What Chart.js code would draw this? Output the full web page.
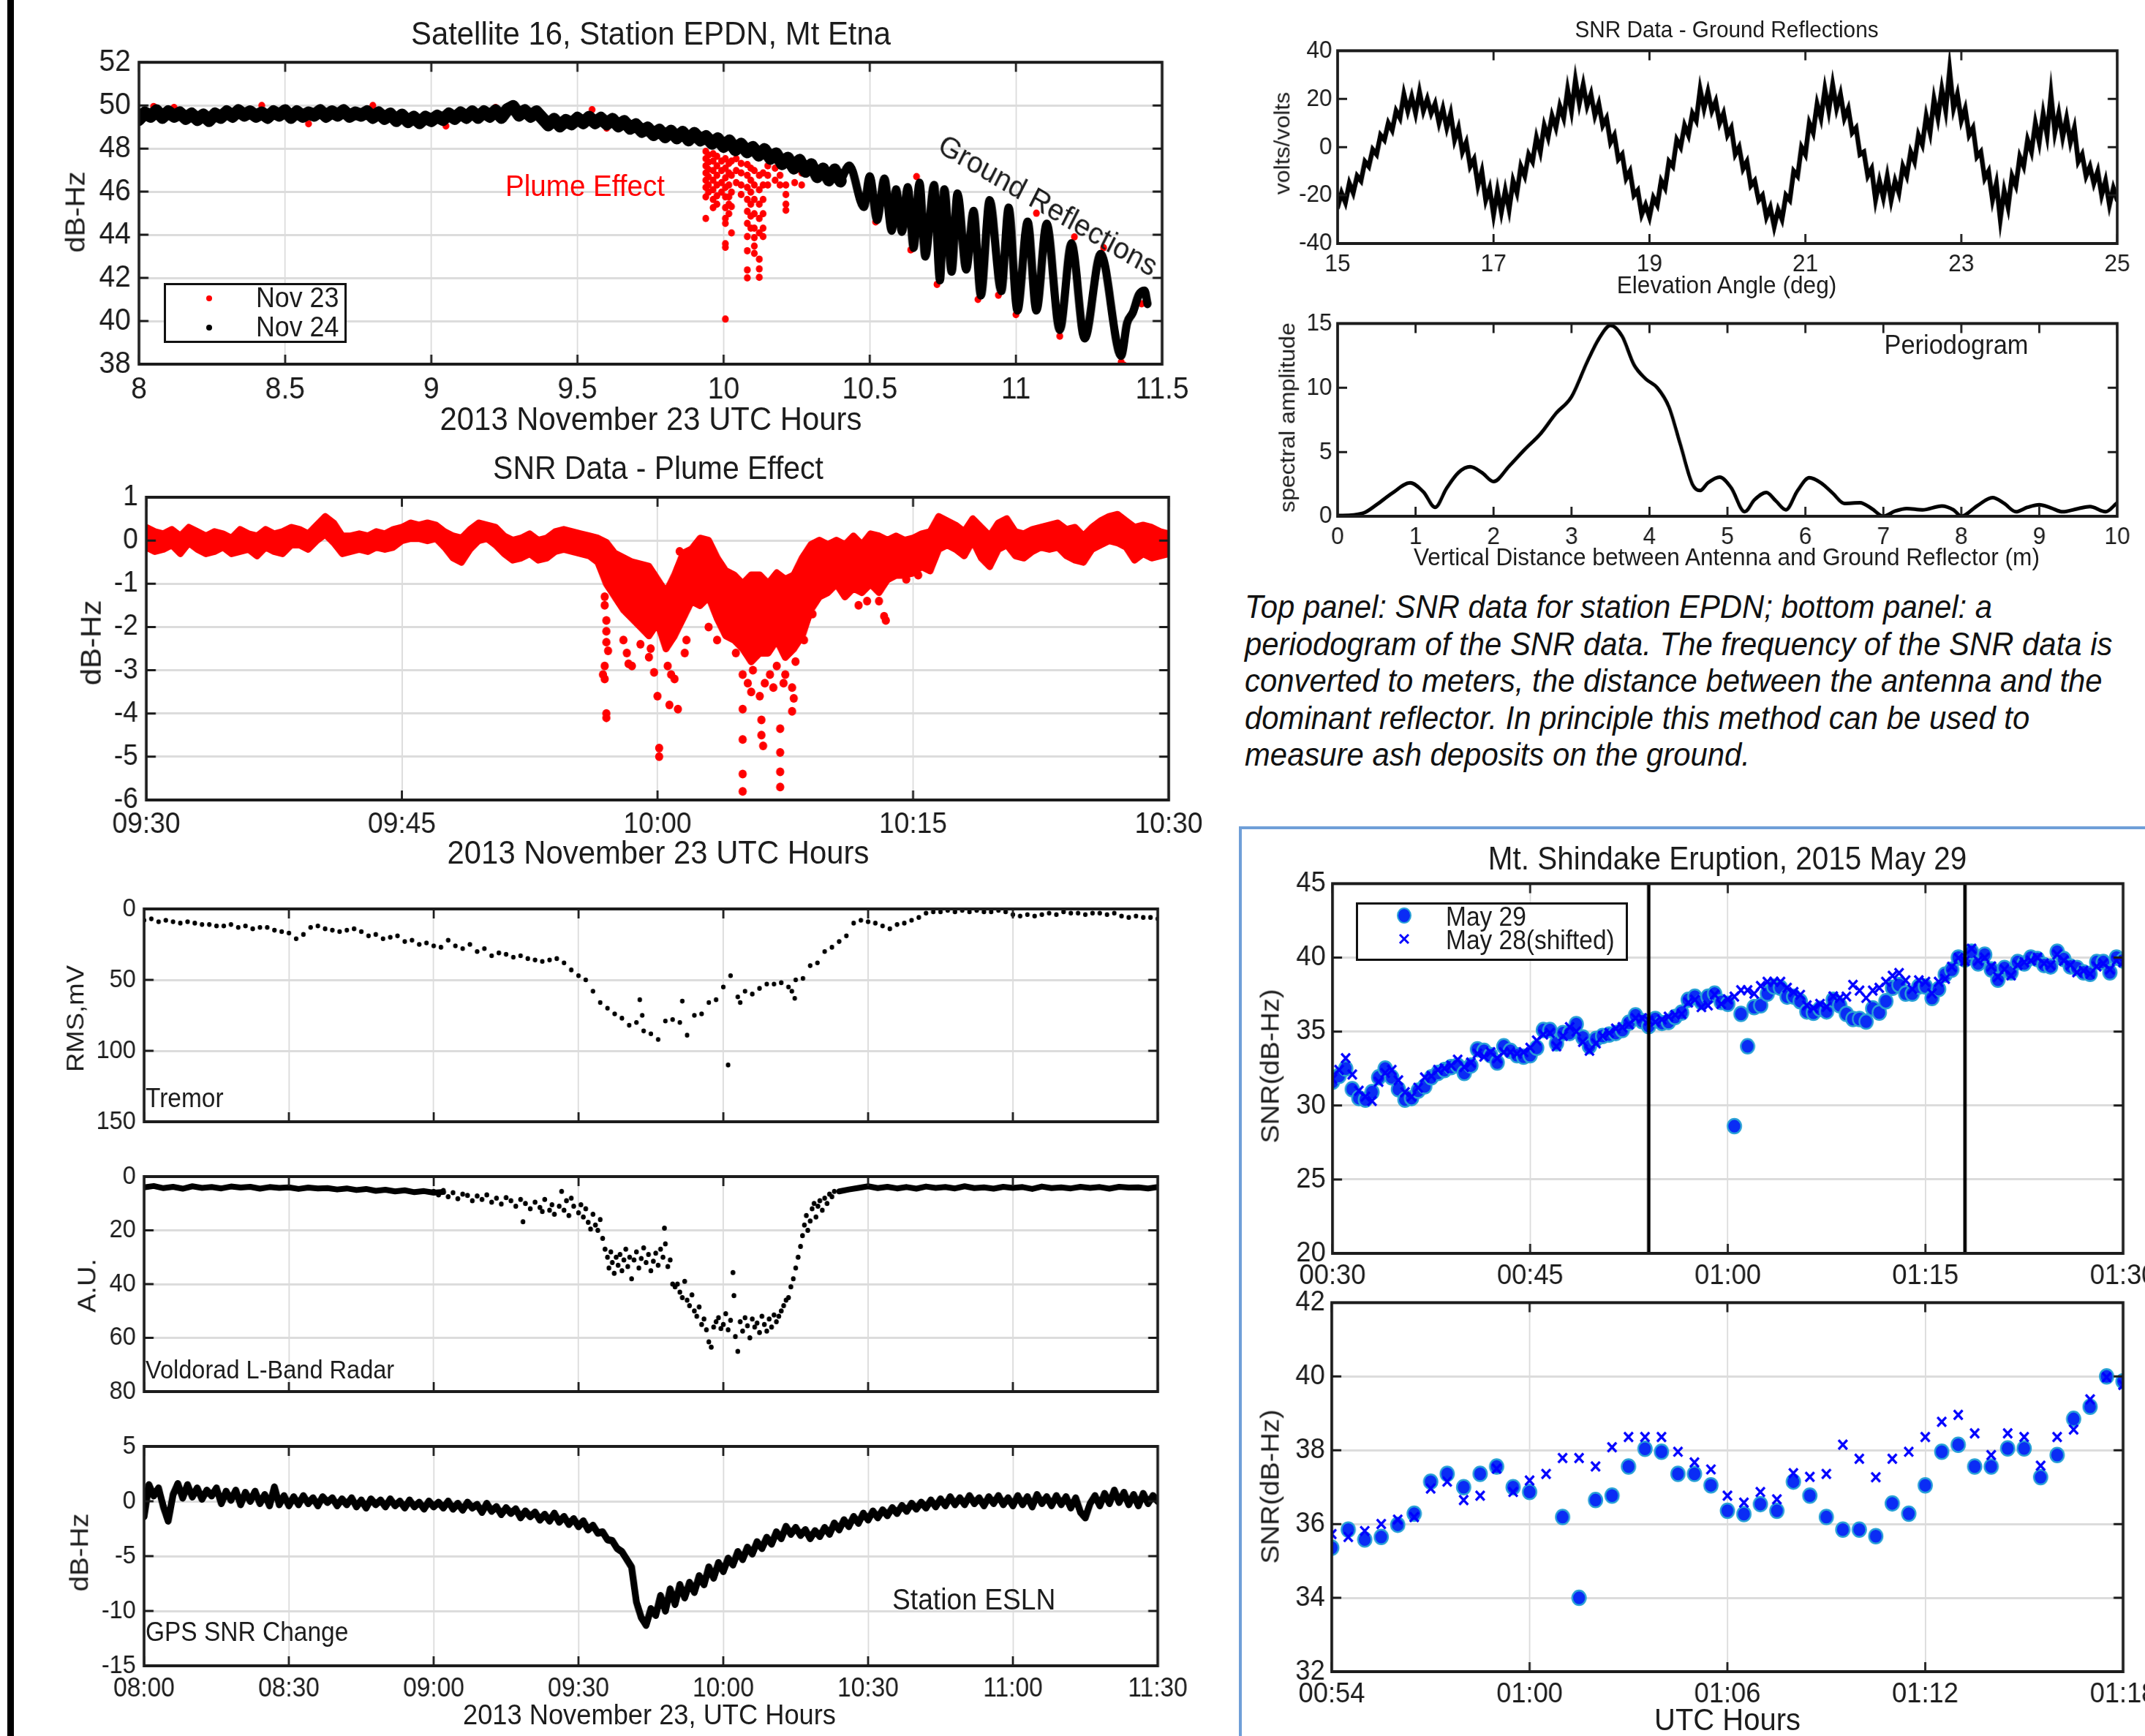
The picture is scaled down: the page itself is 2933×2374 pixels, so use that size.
<!DOCTYPE html>
<html>
<head>
<meta charset="utf-8">
<script src="https://cdn.jsdelivr.net/npm/chart.js@4.4.1/dist/chart.umd.min.js"></script>
<style>
  html, body { margin: 0; padding: 0; background: #fff; }
  body { width: 2933px; height: 2374px; position: relative; overflow: hidden;
         font-family: 'Liberation Sans', Arial, Helvetica, sans-serif; color: #1c1c1c; }
  .t { position: absolute; white-space: nowrap; line-height: 1; }
  canvas { position: absolute; }
  .legend { position: absolute; border: 3px solid #111; background: #fff; box-sizing: border-box; }
</style>
</head>
<body>
<div style="position:absolute;left:10px;top:0;width:9px;height:2374px;background:#000"></div>
<script>
// ---------- data ----------

// Satellite 16, station EPDN: Nov 24 SNR (dB-Hz), sampled every 0.02 h from 8.00 to 10.40
const nov24Start = 8.0, nov24Step = 0.02;
const nov24Snr = [
  49.35, 49.65, 49.50, 49.75, 49.45, 49.70, 49.50, 49.65, 49.40, 49.60,
  49.35, 49.55, 49.30, 49.60, 49.45, 49.70, 49.50, 49.75, 49.55, 49.70,
  49.50, 49.65, 49.45, 49.70, 49.55, 49.75, 49.45, 49.70, 49.50, 49.65,
  49.55, 49.75, 49.50, 49.70, 49.55, 49.75, 49.50, 49.65, 49.55, 49.70,
  49.45, 49.65, 49.40, 49.60, 49.30, 49.55, 49.25, 49.45, 49.20, 49.45,
  49.30, 49.50, 49.35, 49.60, 49.40, 49.65, 49.45, 49.70, 49.45, 49.70,
  49.50, 49.75, 49.45, 49.80, 49.95, 49.55, 49.75, 49.50, 49.70, 49.40,
  49.10, 49.35, 49.05, 49.30, 49.15, 49.40, 49.20, 49.45, 49.20, 49.40,
  49.15, 49.35, 49.05, 49.25, 48.95, 49.10, 48.80, 48.95, 48.65, 48.85,
  48.55, 48.80, 48.50, 48.75, 48.40, 48.70, 48.40, 48.55, 48.25, 48.45,
  48.10, 48.35, 47.95, 48.20, 47.85, 48.05, 47.70, 47.95, 47.55, 47.75,
  47.30, 47.55, 47.10, 47.45, 46.95, 47.25, 46.70, 47.05, 46.55, 47.00,
  46.50
];
// Nov 24 ground-reflection oscillation, peaks and troughs after 10.4 h
const oscHours = [10.40, 10.43, 10.48, 10.50, 10.525, 10.55, 10.575, 10.59, 10.61, 10.63,
  10.65, 10.67, 10.69, 10.72, 10.74, 10.755, 10.78, 10.80, 10.83, 10.855,
  10.88, 10.91, 10.95, 10.975, 11.005, 11.04, 11.07, 11.105, 11.15, 11.19,
  11.235, 11.29, 11.36, 11.38, 11.40, 11.42, 11.44, 11.45];
const oscSnr = [46.5, 47.2, 45.3, 46.7, 44.7, 46.6, 44.2, 46.1, 44.15, 46.2,
  43.4, 46.4, 43.0, 46.3, 41.9, 46.1, 42.3, 45.9, 42.4, 45.1,
  41.2, 45.6, 41.4, 45.25, 40.5, 44.6, 40.5, 44.5, 39.6, 43.6,
  39.2, 43.1, 38.4, 39.9, 40.4, 41.2, 41.4, 40.8];
// Nov 23: plume dropouts, one column of points per time
const plumeColHours = [9.939, 9.948, 9.964, 9.977, 9.993, 10.006, 10.018, 10.027, 10.043, 10.06,
  10.081, 10.093, 10.105, 10.122, 10.135, 10.151, 10.176, 10.193, 10.213, 10.243, 10.267];
const plumeColSnr = [
  [47.87, 47.53, 47.2, 46.87, 46.53, 46.2, 45.76, 44.76],
  [47.7, 47.37, 47.03, 46.7, 46.31, 45.98],
  [47.76, 47.42, 46.98, 46.53, 46.09, 45.64, 45.26],
  [47.64, 47.2, 46.76, 46.31, 45.81, 45.42],
  [47.42, 46.98, 46.42, 45.98],
  [47.53, 47.09, 46.64, 46.2, 45.76, 45.26, 44.76, 44.53, 43.59, 43.42, 40.09],
  [47.31, 46.87, 46.31, 45.76, 45.42, 44.98],
  [47.42, 46.76, 45.98, 45.31, 44.09],
  [47.53, 46.98, 46.42],
  [47.31, 46.87, 46.31, 45.87],
  [47.26, 46.76, 46.2, 45.64, 45.09, 44.53, 43.92, 43.26, 42.37, 42.0],
  [47.09, 46.53, 45.98, 45.42, 44.87, 44.31],
  [46.98, 46.31, 45.64, 44.98, 44.31, 43.87, 43.48, 43.14],
  [46.76, 46.09, 45.42, 44.76, 44.09, 42.87, 42.42, 42.03],
  [46.87, 46.31, 45.64, 44.98, 44.31, 43.92],
  [47.2, 46.76, 46.31],
  [47.09, 46.53],
  [47.31, 46.76, 46.31],
  [46.31, 45.87, 45.42, 45.14],
  [46.98, 46.42],
  [46.87, 46.31]
];
// Nov 23 points showing at the edges of the Nov 24 band
const nov23EdgeHours = [8.05, 8.12, 8.42, 8.58, 8.8, 9.05, 9.22, 9.55, 9.6, 10.52, 10.64, 10.66,
  10.73, 10.87, 10.94, 11.0, 11.07, 11.15, 11.2, 11.3, 11.36, 11.37, 11.43];
const nov23EdgeSnr = [49.95, 49.9, 50.0, 49.15, 50.0, 49.05, 49.9, 49.8, 48.95, 44.6, 43.3, 46.7,
  41.7, 41.0, 41.2, 40.3, 45.0, 39.3, 43.9, 43.4, 38.1, 37.95, 40.8];

// SNR Data - Plume Effect: envelope of the dense band, every 0.5 min from 09:30 to 10:30
const plumeStart = 570, plumeStep = 0.5;
const plumeUpper = [
  0.30, 0.20, 0.15, 0.25, 0.10, 0.30, 0.20, 0.10, 0.20, 0.15,
  0.05, 0.25, 0.15, 0.10, 0.25, 0.15, 0.20, 0.30, 0.25, 0.15,
  0.35, 0.55, 0.40, 0.10, 0.10, 0.15, 0.10, 0.20, 0.15, 0.25,
  0.30, 0.40, 0.35, 0.40, 0.35, 0.20, 0.10, 0.05, 0.25, 0.40,
  0.35, 0.30, 0.10, 0.00, 0.05, 0.15, 0.00, 0.05, 0.20, 0.25,
  0.20, 0.15, 0.10, 0.05,
  -0.05, -0.30, -0.40, -0.50, -0.55, -0.60,
  -0.90, -1.20, -0.80, -0.30, -0.20, 0.05, 0.00, -0.40, -0.70, -0.80,
  -1.00, -0.80, -0.80, -1.00, -0.75, -0.90, -0.80, -0.40, -0.10, 0.00,
  -0.10, 0.00, -0.10, 0.10, -0.10, 0.15, 0.10, 0.00, 0.10, 0.00,
  0.05, 0.15, 0.20, 0.55, 0.45, 0.35, 0.20, 0.50, 0.30, 0.10,
  0.40, 0.50, 0.20, 0.15, 0.25, 0.30, 0.35, 0.40, 0.25, 0.30,
  0.10, 0.30, 0.45, 0.55, 0.60, 0.45, 0.30, 0.35, 0.30, 0.20,
  0.15
];
const plumeLower = [
  -0.15, -0.25, -0.20, -0.10, -0.30, -0.05, -0.20, -0.30, -0.25, -0.15,
  -0.30, -0.25, -0.20, -0.35, -0.15, -0.25, -0.30, -0.10, -0.10, -0.20,
  0.00, 0.15, -0.05, -0.30, -0.25, -0.20, -0.25, -0.15, -0.20, -0.15,
  0.00, 0.05, 0.05, 0.00, 0.05, -0.15, -0.40, -0.50, -0.20, 0.00,
  0.05, -0.10, -0.30, -0.45, -0.40, -0.30, -0.45, -0.40, -0.25, -0.20,
  -0.25, -0.30, -0.35, -0.50,
  -1.00, -1.30, -1.60, -1.80, -2.00, -2.20,
  -1.90, -2.50, -2.20, -1.80, -1.40, -1.50, -1.30, -1.80, -2.20, -2.30,
  -2.50, -2.80, -2.60, -2.60, -2.30, -2.70, -2.50, -2.20, -1.60, -1.30,
  -1.20, -1.00, -1.30, -1.10, -1.20, -1.00, -1.20, -0.90, -0.80, -0.80,
  -0.75, -0.60, -0.70, -0.20, -0.10, -0.20, -0.35, 0.00, -0.40, -0.60,
  -0.20, -0.10, -0.35, -0.40, -0.25, -0.15, -0.20, -0.15, -0.35, -0.45,
  -0.50, -0.20, -0.10, 0.00, -0.05, -0.15, -0.45, -0.30, -0.40, -0.35,
  -0.30
];
// isolated dropout points (minutes after 09:30, dB-Hz)
const plumeOutMin = [26.9, 26.9, 27.0, 27.0, 27.0, 27.1, 26.9, 26.8, 26.9, 27.0, 27.0,
  28.0, 28.2, 28.3, 28.5, 29.0, 29.5, 29.8, 29.6,
  30.0, 30.1, 30.1, 30.7, 31.2, 30.6, 30.8, 31.0,
  31.3, 31.6, 31.7, 33.0, 33.5,
  34.6, 35.0, 35.0, 35.0, 35.0, 35.0, 35.3, 35.5, 35.6,
  36.0, 36.1, 36.1, 36.2, 36.3, 36.6, 36.8,
  37.2, 37.2, 37.2, 37.2, 37.0, 37.4, 37.5,
  37.9, 38.0, 37.9, 38.1, 38.6, 39.1,
  43.0, 43.3, 43.4, 42.3, 41.8, 44.6, 45.3];
const plumeOutDb = [-1.3, -1.5, -1.85, -2.1, -2.35, -2.55, -2.9, -3.1, -3.2, -4.1, -4.0,
  -2.3, -2.6, -2.85, -2.9, -2.4, -2.7, -3.05, -2.5,
  -3.6, -4.8, -5.0, -3.8, -3.9, -2.9, -3.1, -3.2,
  -0.25, -2.6, -2.3, -2.0, -2.3,
  -2.6, -3.1, -3.9, -4.6, -5.4, -5.8, -3.3, -3.5, -3.0,
  -3.6, -4.15, -4.5, -4.75, -3.3, -3.1, -3.4,
  -4.35, -4.9, -5.35, -5.7, -2.9, -3.3, -3.1,
  -3.95, -3.65, -3.4, -2.8, -2.3, -1.7,
  -1.4, -1.75, -1.85, -1.4, -1.5, -0.9, -0.8];

// Tremor RMS (mV), every 1.5 min from 08:00
const tremorStep = 1.5;
const tremorRms = [
  8, 7, 9, 8, 9, 10, 9, 10, 11, 11, 12, 12, 11, 13, 12, 14, 13, 13, 15, 16,
  17, 21, 18, 13, 12, 14, 15, 16, 15, 14, 16, 19, 18, 21, 20, 19, 23, 22, 25, 24,
  26, 27, 22, 26, 28, 25, 30, 28, 33, 31, 32, 34, 33, 35, 36, 37, 36, 35, 38, 43,
  47, 50, 58, 66, 70, 74, 77, 82, 80, 86, 88, 92, 79, 78, 80, 89, 75, 74, 66, 64,
  55, 47, 62, 58, 60, 56, 53, 53, 52, 55, 50, 49, 40, 38, 30, 27, 23, 19, 10, 8,
  9, 10, 12, 14, 11, 10, 8, 6, 3, 2, 2, 1, 2, 1, 2, 1, 2, 2, 1, 2,
  4, 5, 4, 5, 4, 3, 4, 2, 3, 3, 4, 3, 3, 4, 3, 5, 6, 5, 6, 6,
  7
];
const tremorExtraMin = [102.7, 103.2, 111.5, 121, 123.5, 134.2, 134.8];
const tremorExtraRms = [64, 75, 65, 110, 66, 58, 63];

// Voldorad L-band radar (A.U.): quiet band every 2 min, and the scattered echo
const voldoradStep = 2;
const voldoradBand = [
  4.0, 3.5, 4.3, 3.8, 4.5, 3.6, 4.2, 3.9, 4.4, 3.7, 4.1, 3.8, 4.5, 3.9, 4.2, 4.0,
  4.6, 4.1, 4.4, 4.3, 4.8, 4.4, 5.0, 4.6, 5.3, 4.9, 5.5, 5.1, 5.8, 5.4, 6.0, 5.7,
  null, null, null, null, null, null, null, null, null, null,
  null, null, null, null, null, null, null, null, null, null,
  null, null, null, null, null, null, null, null, null, null,
  null, null, null, null, null, null, null, null, null, null,
  5.5, 4.8, 4.2, 3.6, 4.3, 3.8, 4.4, 3.9, 4.5, 3.7, 4.2, 3.9, 4.4, 3.6, 4.3, 4.0,
  4.5, 3.8, 4.2, 3.9, 4.6, 3.7, 4.3, 4.0, 4.4, 3.8, 4.2, 3.9, 4.5, 3.8, 4.1, 4.0,
  4.4, 3.9
];
const voldoradMin = [60, 61, 62, 63, 64, 65, 66, 67, 68, 69, 70, 71, 72, 73, 74, 75, 76, 77, 78, 79, 80, 78.5,
  81, 82, 82.5, 83, 84, 84.5, 85, 86, 86.5, 87, 87.5, 88, 88.5, 89, 90, 90.5,
  91, 91.5, 92, 92.5, 93, 93.5, 94, 94.5,
  95, 95.5, 96, 96.3, 96.7, 97, 97.4, 97.8, 98.2, 98.6, 99, 99.4, 99.8, 100.2, 100.6, 101,
  101.5, 102, 102.5, 103, 103.5, 104, 104.5, 105, 105.5, 106, 106.5, 107, 107.5, 107.8, 108, 108.5, 109,
  109.5, 110, 110.5, 111, 111.5, 112, 112.5, 113, 113.5, 114, 114.5, 115, 115.5, 116, 116.5, 117, 117.5, 118,
  118.5, 119, 119.5, 120, 120.5, 121, 121.5, 122, 122.2, 122.5, 123, 123.5, 124, 124.5, 125, 125.5, 126, 126.5, 127, 127.5,
  128, 128.5, 129, 129.5, 130, 130.5, 131, 131.5, 132, 132.5, 133, 133.5, 134, 134.5,
  135, 135.5, 136, 136.4, 136.8, 137.2, 137.5, 138, 138.4, 138.8, 139.2, 139.6, 140, 140.5, 141, 141.5, 142, 142.5, 143];
const voldoradAu = [5.5, 6.8, 5.2, 7.5, 6.0, 8.2, 6.5, 7.0, 9.0, 7.2, 8.5, 6.8, 9.5, 8.0, 10.2, 7.8, 9.0, 11.0, 8.5, 10.0, 12.0, 16.8,
  9.5, 11.5, 13.0, 8.5, 12.5, 10.5, 14.0, 11.0, 5.5, 12.5, 9.0, 14.5, 8.0, 11.0, 13.5, 10.5,
  15.0, 12.0, 17.0, 19.5, 14.0, 18.0, 20.0, 16.0,
  23.0, 27.0, 30.0, 34.0, 28.0, 32.0, 36.0, 30.0, 33.0, 29.0, 35.0, 31.0, 27.0, 33.5, 30.0, 38.0,
  31.0, 28.0, 34.0, 30.5, 26.5, 32.0, 29.0, 35.0, 31.5, 28.5, 33.0, 27.0, 30.0, 19.2, 25.0, 33.5, 31.0,
  40.0, 41.0, 40.0, 43.0, 45.0, 39.0, 46.0, 48.0, 44.0, 50.0, 52.0, 48.5, 55.0, 53.0, 57.0, 61.5, 63.5, 56.0,
  54.0, 52.5, 56.5, 55.0, 51.0, 57.0, 53.5, 35.7, 44.3, 59.5, 65.0, 54.0, 57.5, 52.5, 55.5, 60.0, 53.0, 56.0, 54.5, 58.0,
  52.0, 55.0, 57.5, 53.0, 56.0, 51.5, 54.0, 52.0, 50.0, 48.0, 46.0, 45.0, 41.0, 38.0,
  34.0, 30.0, 26.0, 22.0, 18.0, 14.5, 20.0, 16.5, 12.0, 10.0, 15.0, 11.0, 9.0, 12.5, 8.0, 10.0, 6.5, 7.5, 5.5];

// GPS SNR change at ESLN (dB-Hz), every minute from 08:00 to 11:30
const gpsStep = 1;
const gpsSnr = [
  -1.4, 1.5, 0.5, 1.2, -0.5, -1.8, 0.6, 1.6, 0.3, 1.5,
  0.4, 1.2, 0.2, 1.0, 0.5, 1.2, -0.2, 0.9, 0.1, 1.0,
  -0.3, 0.8, 0.0, 0.9, -0.2, 0.6, -0.4, 1.3, -0.3, 0.5,
  -0.4, 0.4, -0.3, 0.5, -0.2, 0.3, -0.4, 0.4, -0.1, 0.3,
  -0.4, 0.2, -0.3, 0.3, -0.5, 0.1, -0.6, 0.2, -0.3, 0.1,
  -0.5, 0.2, -0.4, 0.0, -0.6, 0.1, -0.5, -0.1, -0.7, 0.0,
  -0.5, -0.1, -0.6, 0.0, -0.7, -0.2, -0.8, -0.1, -0.6, -0.3,
  -1.0, -0.2, -0.9, -0.5, -1.2, -0.6, -1.1, -0.7, -1.5, -0.9,
  -1.4, -1.0, -1.7, -1.2, -1.8, -1.1, -1.9, -1.4, -2.1, -1.6,
  -2.3, -1.8, -2.6, -2.2, -2.9, -2.8, -3.5, -3.6, -4.3, -4.6,
  -5.3, -6.0, -9.2, -10.6, -11.3, -9.8, -10.4, -8.6, -10.0, -8.0,
  -9.4, -7.6, -8.8, -7.4, -8.3, -6.8, -7.6, -6.0, -7.0, -5.6,
  -6.4, -5.2, -5.8, -4.6, -5.3, -4.2, -4.8, -3.7, -4.3, -3.3,
  -3.9, -2.8, -3.4, -2.3, -3.0, -2.4, -3.1, -2.6, -3.4, -2.7,
  -3.2, -2.4, -3.0, -2.0, -2.6, -1.7, -2.3, -1.4, -2.0, -1.1,
  -1.7, -0.9, -1.5, -0.8, -1.3, -0.6, -1.1, -0.4, -0.9, -0.2,
  -0.7, -0.1, -0.6, 0.1, -0.5, 0.2, -0.4, 0.4, -0.3, 0.3,
  -0.3, 0.5, -0.2, 0.3, -0.4, 0.4, -0.2, 0.5, -0.3, 0.3,
  -0.4, 0.5, -0.3, 0.4, -0.5, 0.6, -0.2, 0.4, -0.4, 0.5,
  -0.3, 0.4, -0.6, 0.3, -1.0, -1.5, -0.2, 0.5, -0.4, 0.7,
  -0.2, 1.0, -0.1, 0.8, -0.3, 0.6, -0.4, 0.7, -0.2, 0.5,
  0.0
];

// SNR Data - Ground Reflections (volts/volts), every 0.05 deg from 15 to 25
const elevStart = 15, elevStep = 0.05;
const reflSnr = [
  -25, -19, -23, -15, -19, -12, -14, -6, -8, -1, -3, 5, 3, 10, 7, 15, 12, 22, 15, 21,
  14, 23, 15, 20, 14, 18, 10, 16, 8, 14, 3, 8, -2, 2, -8, -5, -16, -10, -22, -17,
  -28, -18, -27, -18, -26, -14, -19, -8, -12, -3, -6, 4, -2, 9, 4, 13, 8, 17, 12, 24,
  15, 28, 18, 26, 17, 22, 13, 18, 9, 12, 2, 5, -5, -3, -13, -10, -20, -18, -28, -24,
  -29, -21, -24, -14, -17, -6, -8, 3, 0, 9, 5, 14, 11, 24, 16, 23, 15, 19, 10, 14,
  5, 8, -3, 0, -9, -6, -16, -14, -22, -20, -29, -25, -33, -26, -30, -20, -22, -10, -12, 0,
  -3, 10, 6, 18, 12, 24, 15, 26, 16, 22, 12, 16, 6, 8, -3, -2, -12, -9, -22, -14,
  -21, -12, -22, -14, -19, -8, -12, -2, -6, 5, 1, 13, 6, 20, 12, 24, 15, 32, 16, 22,
  11, 16, 5, 8, -4, -2, -13, -10, -22, -15, -30, -18, -25, -12, -16, -4, -8, 3, -2, 10,
  2, 14, 5, 22, 6, 14, 4, 12, 2, 8, -6, -3, -12, -8, -15, -10, -20, -14, -24, -17,
  -22
];

// Periodogram
const reflectorHeight = [0, 0.2, 0.35, 0.5, 0.7, 0.93, 1.1, 1.25, 1.4, 1.55, 1.7, 1.85, 2.0, 2.2, 2.4,
  2.6, 2.8, 3.0, 3.2, 3.35, 3.5, 3.65, 3.8, 3.95, 4.1, 4.25, 4.4, 4.55, 4.65, 4.75,
  4.9, 5.05, 5.22, 5.35, 5.5, 5.62, 5.75, 5.9, 6.05, 6.2, 6.35, 6.5, 6.7, 6.85, 7.0,
  7.15, 7.3, 7.5, 7.75, 7.9, 8.0, 8.2, 8.4, 8.55, 8.7, 8.85, 9.0, 9.15, 9.3, 9.5,
  9.65, 9.85, 10.0];
const spectralAmp = [0.05, 0.1, 0.3, 0.9, 1.8, 2.6, 1.9, 0.7, 2.2, 3.4, 3.85, 3.4, 2.7, 3.9, 5.2,
  6.4, 8.0, 9.3, 12.0, 13.8, 14.85, 14.0, 11.8, 10.7, 10.0, 8.5, 5.5, 2.5, 2.0, 2.6,
  3.05, 2.2, 0.35, 1.3, 1.85, 1.2, 0.5, 2.0, 3.0, 2.6, 1.8, 1.0, 1.05, 0.6, 0.0,
  0.4, 0.6, 0.5, 0.8, 0.5, 0.0, 0.8, 1.45, 1.0, 0.35, 0.7, 0.9, 0.65, 0.35, 0.6,
  0.75, 0.35, 1.05];

// Mt. Shindake, every 0.5 min from 00:30 to 01:30 (minutes after midnight)
const shinStart = 30, shinStep = 0.5;
const may29Snr = [
  31.6, 32.0, 32.5, 31.1, 30.5, 30.4, 30.9, 31.9, 32.5, 31.9,
  31.1, 30.4, 30.5, 31.0, 31.3, 31.9, 32.2, 32.4, 32.6, 32.7,
  32.2, 32.7, 33.8, 33.7, 33.4, 32.9, 34.0, 33.7, 33.4, 33.3,
  33.4, 33.9, 35.1, 35.1, 34.2, 34.9, 34.9, 35.5, 34.6, 34.0,
  34.5, 34.7, 34.8, 34.9, 35.1, 35.6, 36.1, 35.7, 35.36, 35.85,
  35.58, 35.65, 35.98, 36.28, 37.15, 37.36, 37.0, 37.36, 37.56, 37.0,
  36.87, 28.6, 36.19, 34.0, 36.65, 36.77, 37.56, 38.04, 37.96, 37.36,
  37.36, 37.05, 36.36, 36.27, 36.54, 36.36, 37.15, 36.77, 36.19, 35.85,
  35.85, 35.67, 36.56, 36.28, 37.05, 37.96, 38.15, 37.56, 37.56, 38.05,
  38.05, 37.27, 37.87, 38.85, 39.18, 40.0, 39.87, 40.4, 39.6, 40.2,
  39.2, 38.5, 39.3, 39.0, 39.7, 39.6, 40.0, 39.9, 39.5, 39.4,
  40.4, 39.9, 39.4, 39.3, 39.0, 38.9, 39.7, 39.7, 39.0, 40.0,
  39.8
];
const may28Snr = [
  31.8, 32.4, 33.2, 32.1, 31.0, 30.6, 30.3, 31.6, 32.2, 32.4,
  31.7, 30.9, 30.6, 31.2, 31.9, 32.0, 32.4, 32.5, 32.7, 33.1,
  32.6, 32.9, 33.5, 33.3, 33.6, 33.2, 33.6, 33.6, 33.5, 33.6,
  33.9, 34.4, 34.8, 34.9, 34.0, 34.7, 35.3, 35.0, 34.3, 33.7,
  34.2, 34.7, 34.9, 35.2, 35.3, 35.5, 35.9, 35.9, 35.73, 35.65,
  35.81, 36.0, 36.12, 36.19, 36.96, 37.15, 36.65, 36.77, 37.5, 36.87,
  37.18, 37.36, 37.79, 37.79, 37.56, 38.08, 38.36, 38.36, 38.36, 37.96,
  37.67, 37.48, 36.77, 36.58, 36.87, 36.67, 37.38, 37.28, 37.36, 38.15,
  37.77, 37.27, 37.77, 37.96, 38.36, 38.77, 38.96, 38.46, 37.87, 38.46,
  38.36, 37.58, 38.36, 38.56, 39.38, 39.98, 39.77, 40.6, 39.8, 40.0,
  39.4, 38.7, 39.2, 38.8, 39.5, 39.7, 39.8, 40.0, 39.6, 39.5,
  40.2, 39.8, 39.5, 39.0, 39.1, 38.9, 39.4, 39.6, 39.2, 39.8,
  39.7
];
const eruptionMarks = [54, 78];

// ---------- drawing ----------
const SX = 0.93;            // the figure is slightly squeezed horizontally
const FONT = "'Liberation Sans', Arial, Helvetica, sans-serif";
const INK = '#1c1c1c';
const GRID = '#dcdcdc';

const hhmm = m => String(Math.floor(m / 60)).padStart(2, '0') + ':' + String(Math.round(m % 60)).padStart(2, '0');
const plain = v => String(v);
const series = (vals, start, step) => vals.map((v, i) => ({x: start + i * step, y: v}));
const pairs = (xs, ys) => xs.map((x, i) => ({x: x, y: ys[i]}));

// matlab style box with inward ticks on all four sides
const boxTicks = {
  id: 'boxTicks',
  afterDatasetsDraw(chart) {
    const {ctx, chartArea: a} = chart;
    const xs = chart.scales.x, ys = chart.scales.y;
    const tl = 13;
    ctx.save();
    ctx.strokeStyle = INK;
    ctx.lineWidth = 3;
    ctx.beginPath();
    xs.ticks.forEach(t => {
      const p = xs.getPixelForValue(t.value);
      ctx.moveTo(p, a.bottom); ctx.lineTo(p, a.bottom - tl);
      ctx.moveTo(p, a.top); ctx.lineTo(p, a.top + tl);
    });
    ys.ticks.forEach(t => {
      const p = ys.getPixelForValue(t.value);
      ctx.moveTo(a.left, p); ctx.lineTo(a.left + tl / SX, p);
      ctx.moveTo(a.right, p); ctx.lineTo(a.right - tl / SX, p);
    });
    ctx.stroke();
    ctx.lineWidth = 4;
    ctx.strokeRect(a.left, a.top, a.right - a.left, a.bottom - a.top);
    ctx.restore();
  }
};
Chart.register(boxTicks);

function axis(which, o) {
  const s = {
    type: 'linear', position: which === 'x' ? 'bottom' : 'left',
    min: o.min, max: o.max, reverse: !!o.reverse,
    ticks: {stepSize: o.step, autoSkip: false, maxRotation: 0, minRotation: 0,
      display: o.labels !== false, padding: o.pad || 10,
      font: {family: FONT, size: o.size || 40}, color: INK},
    grid: {display: o.grid !== false, color: GRID, lineWidth: which === 'x' ? 2 : 3, drawTicks: false},
    border: {display: false}
  };
  if (o.fmt) s.ticks.callback = o.fmt;
  return s;
}

// box = plot area in page px [left, top, right, bottom]; pad = room for labels [l, t, r, b]
function panel(box, pad, datasets, xo, yo) {
  const [L, T, R, B] = box;
  const [pl, pt, pr, pb] = pad;
  const cssW = pl + (R - L) + pr, cssH = pt + (B - T) + pb;
  const c = document.createElement('canvas');
  c.width = Math.round(cssW / SX);
  c.height = cssH;
  c.style.left = (L - pl) + 'px';
  c.style.top = (T - pt) + 'px';
  c.style.width = cssW + 'px';
  c.style.height = cssH + 'px';
  document.body.appendChild(c);
  const x = axis('x', xo), y = axis('y', yo);
  x.afterFit = s => { s.height = pb; };
  y.afterFit = s => { s.width = pl / SX; };
  return new Chart(c, {
    type: 'line',
    data: {datasets: datasets},
    options: {
      responsive: false, animation: false, events: [], devicePixelRatio: 1,
      layout: {padding: {left: 0, top: pt, right: pr / SX, bottom: 0}},
      plugins: {legend: {display: false}, tooltip: {enabled: false}},
      scales: {x: x, y: y}
    }
  });
}

function label(text, x, y, size, o = {}) {
  const d = document.createElement('div');
  d.className = 't';
  d.textContent = text;
  d.style.left = x + 'px';
  d.style.top = y + 'px';
  d.style.fontSize = size + 'px';
  const left = o.anchor === 'left';
  d.style.transformOrigin = left ? 'left center' : 'center center';
  d.style.transform = `translate(${left ? '0' : '-50%'},-50%) scaleX(${SX}) rotate(${o.rot || 0}deg)`;
  if (o.color) d.style.color = o.color;
  document.body.appendChild(d);
  return d;
}

const lineDs = (data, color, width, extra = {}) =>
  Object.assign({data: data, borderColor: color, borderWidth: width, pointRadius: 0, tension: 0,
    borderJoinStyle: 'round', borderCapStyle: 'round'}, extra);
const dotDs = (data, color, r, extra = {}) =>
  Object.assign({data: data, showLine: false, pointRadius: r, pointBackgroundColor: color,
    pointBorderWidth: 0, borderColor: color}, extra);

// --- Satellite 16, Station EPDN, Mt Etna ---
const nov23Pts = plumeColHours.flatMap((h, i) => plumeColSnr[i].map(v => ({x: h, y: v})))
  .concat(pairs(nov23EdgeHours, nov23EdgeSnr));
panel([190, 78, 1589, 498], [125, 30, 60, 60], [
  lineDs(series(nov24Snr, nov24Start, nov24Step), '#000', 18),
  lineDs(pairs(oscHours, oscSnr), '#000', 12, {cubicInterpolationMode: 'monotone'}),
  dotDs(nov23Pts, '#ff0000', 5)
], {min: 8, max: 11.5, step: 0.5, size: 42, pad: 10, fmt: plain},
   {min: 38, max: 52, step: 2, size: 42, pad: 12});
label('Satellite 16, Station EPDN, Mt Etna', 890, 45, 45);
label('2013 November 23 UTC Hours', 890, 572, 45);
label('dB-Hz', 103, 290, 40, {rot: -90});
label('Plume Effect', 800, 254, 41.5, {color: '#ff0000'});
label('Ground Reflections', 1433, 281, 42, {rot: 28.6});

// --- SNR Data - Plume Effect ---
panel([200, 674, 1598, 1094], [130, 30, 70, 60], [
  dotDs(pairs(plumeOutMin.map(m => plumeStart + m), plumeOutDb), '#ff0000', 6),
  lineDs(series(plumeUpper, plumeStart, plumeStep), '#ff0000', 10, {fill: '+1', backgroundColor: '#ff0000'}),
  lineDs(series(plumeLower, plumeStart, plumeStep), '#ff0000', 10)
], {min: 570, max: 630, step: 15, size: 40, pad: 10, fmt: v => hhmm(v)},
   {min: -6, max: 1, step: 1, size: 40, pad: 12});
label('SNR Data - Plume Effect', 900, 640, 44);
label('2013 November 23 UTC Hours', 900, 1165, 45);
label('dB-Hz', 125, 879, 42, {rot: -90});

// --- Tremor ---
const lowX = {min: 0, max: 210, step: 30, labels: false};
panel([197, 1240, 1583, 1547], [130, 30, 30, 20], [
  dotDs(series(tremorRms, 0, tremorStep).concat(pairs(tremorExtraMin, tremorExtraRms)), '#000', 3.3)
], lowX, {min: 0, max: 150, step: 50, reverse: true, size: 35, pad: 12});
label('RMS,mV', 103, 1393, 36.5, {rot: -90});
label('Tremor', 199, 1502, 36, {anchor: 'left'});

// --- Voldorad L-Band Radar ---
panel([197, 1606, 1583, 1916], [130, 30, 30, 20], [
  dotDs(pairs(voldoradMin, voldoradAu), '#000', 3.5),
  lineDs(series(voldoradBand, 0, voldoradStep), '#000', 8)
], lowX, {min: 0, max: 80, step: 20, reverse: true, size: 35, pad: 12});
label('A.U.', 118, 1758, 38, {rot: -90});
label('Voldorad L-Band Radar', 199, 1872, 35, {anchor: 'left'});

// --- GPS SNR Change ---
panel([197, 1975, 1583, 2278], [130, 30, 60, 55], [
  lineDs(series(gpsSnr, 0, gpsStep), '#000', 10)
], {min: 0, max: 210, step: 30, size: 36, pad: 10, fmt: v => hhmm(480 + v)},
   {min: -15, max: 5, step: 5, size: 35, pad: 12});
label('dB-Hz', 108, 2123, 38.5, {rot: -90});
label('GPS SNR Change', 199, 2232, 36, {anchor: 'left'});
label('Station ESLN', 1220, 2187, 40, {anchor: 'left'});
label('2013 November 23, UTC Hours', 888, 2344, 39);

// --- SNR Data - Ground Reflections ---
panel([1829, 66, 2895, 333], [80, 25, 37, 45], [
  lineDs(series(reflSnr, elevStart, elevStep), '#000', 7, {borderJoinStyle: 'miter'})
], {min: 15, max: 25, step: 2, size: 34, pad: 8, grid: false},
   {min: -40, max: 40, step: 20, size: 34, pad: 8, grid: false});
label('SNR Data - Ground Reflections', 2361, 40, 32);
label('volts/volts', 1753, 196, 32, {rot: -90});
label('Elevation Angle (deg)', 2361, 389, 34);

// --- Periodogram ---
panel([1829, 439, 2895, 706], [80, 25, 37, 45], [
  lineDs(pairs(reflectorHeight, spectralAmp), '#000', 5, {cubicInterpolationMode: 'monotone'})
], {min: 0, max: 10, step: 1, size: 34, pad: 8, grid: false},
   {min: 0, max: 15, step: 5, size: 34, pad: 8, grid: false});
label('Periodogram', 2675, 471, 37);
label('spectral amplitude', 1760, 571, 32, {rot: -90});
label('Vertical Distance between Antenna and Ground Reflector (m)', 2361, 761, 34);

// caption
const cap = document.createElement('div');
cap.className = 't';
cap.style.cssText = `left:1702px;top:805px;font-size:45px;line-height:50.5px;font-style:italic;
  transform-origin:left top;transform:scaleX(${SX});color:#111`;
cap.innerHTML = 'Top panel: SNR data for station EPDN; bottom panel: a<br>' +
  'periodogram of the SNR data. The frequency of the SNR data is<br>' +
  'converted to meters, the distance between the antenna and the<br>' +
  'dominant reflector. In principle this method can be used to<br>' +
  'measure ash deposits on the ground.';
document.body.appendChild(cap);

// --- Mt. Shindake box ---
const frame = document.createElement('div');
frame.style.cssText = 'position:absolute;left:1694px;top:1130px;width:1300px;height:1300px;border:4px solid #6f9fd8;box-sizing:border-box';
document.body.appendChild(frame);

const circleOpts = {pointBackgroundColor: '#0a2cf5', pointBorderColor: '#2aa2d6', pointBorderWidth: 2.5};
const crossOpts = {pointStyle: 'crossRot', pointBorderColor: '#0000ff', pointBorderWidth: 3.5};
function shindake(box, yMin, yMax, yStep, xMin, xMax, xStep, marks) {
  const ds = [];
  if (marks) marks.forEach(m => ds.push(lineDs([{x: m, y: yMin}, {x: m, y: yMax}], '#000', 5, {borderCapStyle: 'butt'})));
  ds.push(dotDs(series(may28Snr, shinStart, shinStep), '#0000ff', 9, crossOpts));
  ds.push(dotDs(series(may29Snr, shinStart, shinStep), '#0a2cf5', 10, circleOpts));
  panel(box, [95, 30, 60, 50], ds,
    {min: xMin, max: xMax, step: xStep, size: 39, pad: 8, fmt: v => hhmm(v)},
    {min: yMin, max: yMax, step: yStep, size: 39, pad: 10});
}
shindake([1822, 1205, 2903, 1714], 20, 45, 5, 30, 90, 15, eruptionMarks);
shindake([1821, 1778, 2903, 2286], 32, 42, 2, 54, 78, 6, null);
label('Mt. Shindake Eruption, 2015 May 29', 2362, 1175, 43.5);
label('SNR(dB-Hz)', 1736, 1458, 38, {rot: -90});
label('SNR(dB-Hz)', 1736, 2033, 38, {rot: -90});
label('UTC Hours', 2362, 2351, 43);

// legends
function legendBox(x, y, w, h, items, size, markerX, textX) {
  const b = document.createElement('div');
  b.className = 'legend';
  b.style.left = x + 'px'; b.style.top = y + 'px';
  b.style.width = w + 'px'; b.style.height = h + 'px';
  document.body.appendChild(b);
  items.forEach(it => {
    const m = document.createElement('div');
    m.style.cssText = `position:absolute;left:${markerX}px;top:${it.y}px;transform:translate(-50%,-50%)`;
    m.innerHTML = it.marker;
    document.body.appendChild(m);
    label(it.text, textX, it.y, size, {anchor: 'left'});
  });
}
const dot = (c, d) => `<svg width="${d}" height="${d}"><circle cx="${d / 2}" cy="${d / 2}" r="${d / 2}" fill="${c}"/></svg>`;
legendBox(224, 387, 250, 82, [
  {y: 407, text: 'Nov 23', marker: dot('#ff0000', 8)},
  {y: 447, text: 'Nov 24', marker: dot('#000', 8)}
], 38.5, 286, 350);
legendBox(1854, 1234, 372, 80, [
  {y: 1254, text: 'May 29', marker: '<svg width="20" height="22"><ellipse cx="10" cy="11" rx="9" ry="10" fill="#0a2cf5" stroke="#2aa2d6" stroke-width="2"/></svg>'},
  {y: 1286, text: 'May 28(shifted)', marker: '<svg width="18" height="18"><path d="M3 3L15 15M15 3L3 15" stroke="#0000ff" stroke-width="3"/></svg>'}
], 36, 1920, 1977);
</script>
</body>
</html>
